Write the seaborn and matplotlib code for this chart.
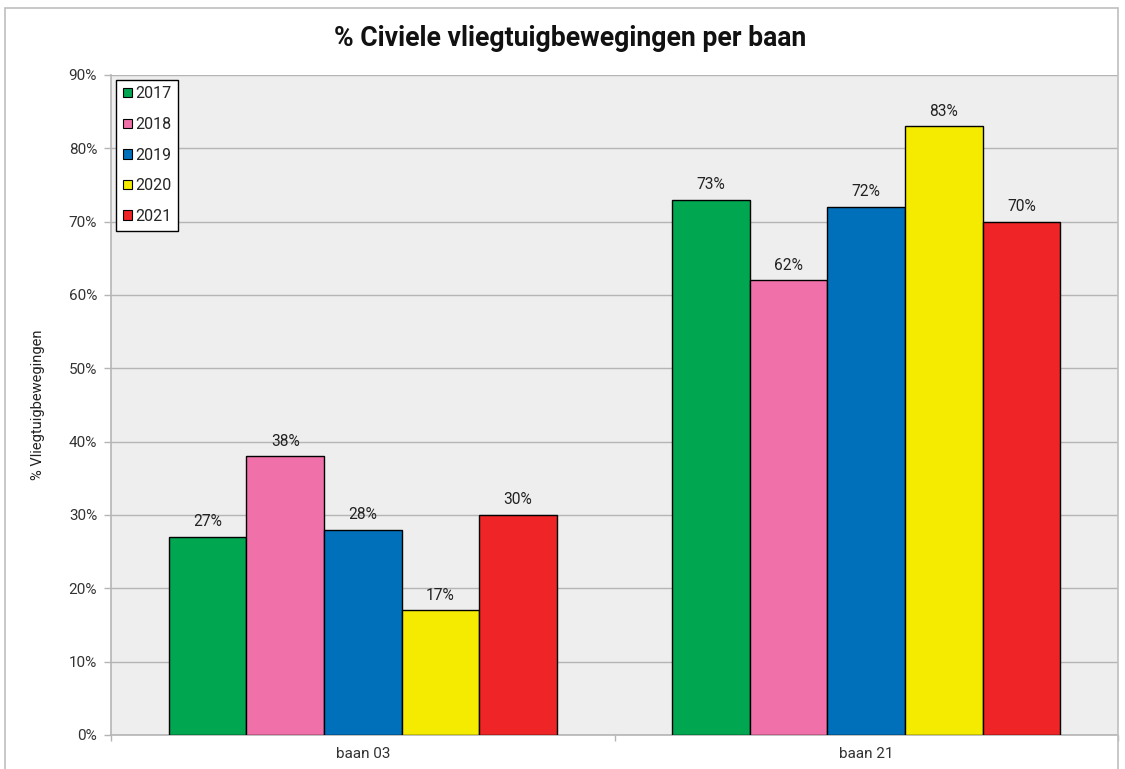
import matplotlib
matplotlib.use("Agg")
import matplotlib.pyplot as plt
import seaborn as sns
import pandas as pd
from matplotlib.patches import Rectangle, Patch
from matplotlib.ticker import FixedLocator

categories = ["baan 03", "baan 21"]
years = ["2017", "2018", "2019", "2020", "2021"]
values_2017 = [27, 73]
values_2018 = [38, 62]
values_2019 = [28, 72]
values_2020 = [17, 83]
values_2021 = [30, 70]
colors = ["#00A650", "#F071A9", "#0070BA", "#F5EB00", "#EE2426"]

series = [values_2017, values_2018, values_2019, values_2020, values_2021]
rows = []
for y, vals in zip(years, series):
    for c, v in zip(categories, vals):
        rows.append({"baan": c, "jaar": y, "pct": v})
df = pd.DataFrame(rows)

sns.set_theme(style="white")
plt.rcParams["font.family"] = ["Roboto", "DejaVu Sans"]

fig = plt.figure(figsize=(11.25, 7.69), dpi=100)
ax = fig.add_axes([111/1125, 1 - 735/769, (1118 - 111)/1125, (735 - 75)/769])
ax.set_facecolor("#EEEEEE")

sns.barplot(data=df, x="baan", y="pct", hue="jaar", hue_order=years,
            palette=colors, width=0.77, edgecolor="black", linewidth=1.0,
            saturation=1, ax=ax, legend=False, zorder=3)

for cont in ax.containers:
    ax.bar_label(cont, fmt="%d%%", padding=5.5, fontsize=11.2, color="#222222")

ax.set_ylim(0, 90)
ax.set_xlim(-0.5, 1.5)
ax.set_yticks(range(0, 91, 10))
ax.set_yticklabels([f"{t}%" for t in range(0, 91, 10)], fontsize=11, color="#333333")
ax.yaxis.grid(True, color="#B5B5B5", linewidth=1, zorder=0)
ax.set_axisbelow(True)
ax.tick_params(axis="y", length=5, color="#B5B5B5", width=1, pad=5, left=True)
ax.tick_params(axis="x", which="major", length=0, pad=9, labelsize=11, labelcolor="#333333")
ax.xaxis.set_minor_locator(FixedLocator([-0.5, 0.5, 1.5]))
ax.tick_params(axis="x", which="minor", length=4, color="#B5B5B5", width=1, bottom=True)
ax.set_xlabel("")
ax.set_ylabel("% Vliegtuigbewegingen", fontsize=10.5, color="#222222", labelpad=17)

for s in ["top", "right"]:
    ax.spines[s].set_visible(False)
for s in ["left", "bottom"]:
    ax.spines[s].set_color("#B5B5B5")
    ax.spines[s].set_linewidth(1.2)

handles = [Patch(facecolor=c, edgecolor="black", linewidth=0.8, label=y) for c, y in zip(colors, years)]
leg = ax.legend(handles=handles, loc="upper left", bbox_to_anchor=(0.005, 0.993),
                fontsize=11.5, frameon=True, fancybox=False, framealpha=1,
                edgecolor="black", handlelength=0.55, handleheight=0.55,
                handletextpad=0.25, labelspacing=0.98, borderpad=0.42, borderaxespad=0)
leg.get_frame().set_linewidth(1.0)

fig.text(570/1125, 1 - 38/769, "% Civiele vliegtuigbewegingen per baan",
         ha="center", va="center", fontsize=19.2, fontweight="bold", color="#111111")

fig.patches.append(Rectangle((4.5/1125, -0.05), (1118 - 4.5)/1125, 1.05 - 8/769,
                             transform=fig.transFigure, fill=False,
                             edgecolor="#BFBFBF", linewidth=1.2))

fig.savefig("out.png", dpi=100)
